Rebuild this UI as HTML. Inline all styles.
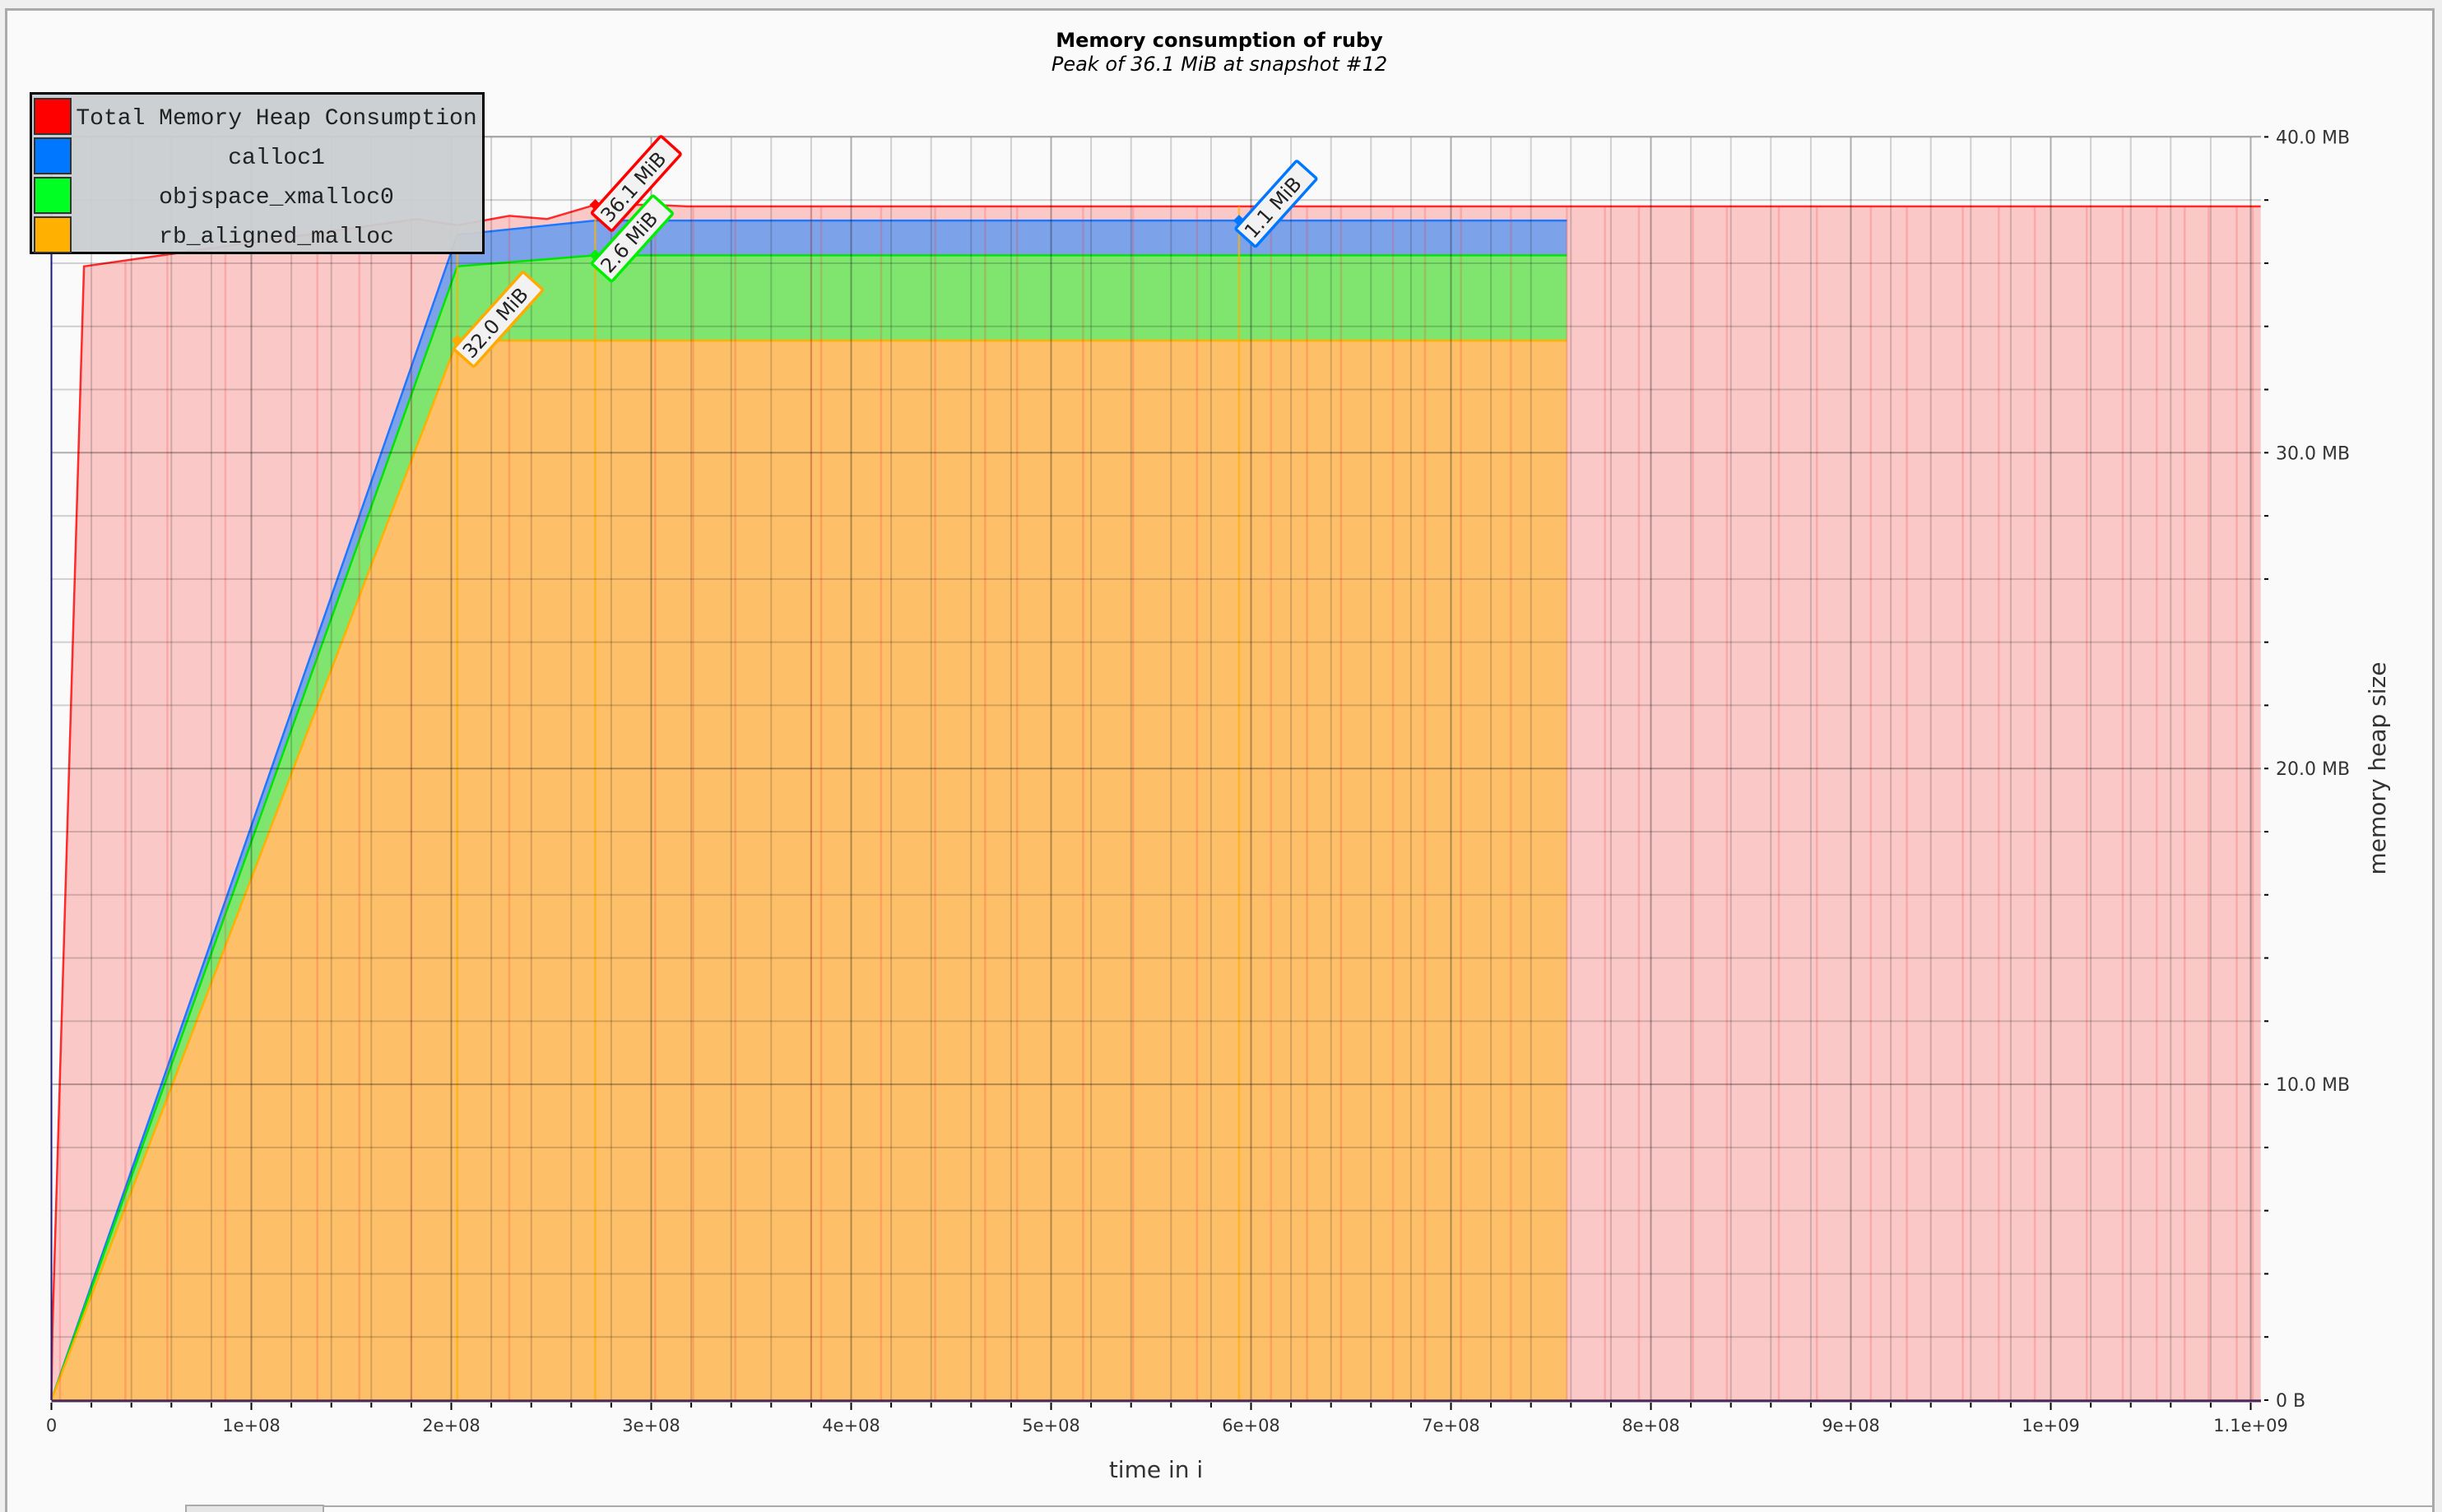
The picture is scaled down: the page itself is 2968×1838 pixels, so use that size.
<!DOCTYPE html>
<html><head><meta charset="utf-8"><style>
html,body{margin:0;padding:0;background:#efefef;}
svg{display:block;}
text{font-family:"DejaVu Sans","Liberation Sans",sans-serif;}
</style></head><body>
<svg id="chart" xmlns="http://www.w3.org/2000/svg" width="2968" height="1838" viewBox="0 0 2968 1838">
  <rect x="7.5" y="11.5" width="2950" height="1830" fill="#fafafa" stroke="#aaaaaa" stroke-width="3"/>
  <rect x="226" y="1830" width="167" height="12" fill="#e6e6e6" stroke="#aaaaaa" stroke-width="2"/>
  <line x1="393" y1="1831" x2="2957" y2="1831" stroke="#aaaaaa" stroke-width="2"/>
  <text x="1482" y="57" text-anchor="middle" font-size="24" font-weight="bold" fill="#000">Memory consumption of ruby</text>
  <text x="1482" y="86" text-anchor="middle" font-size="24" font-style="italic" fill="#000">Peak of 36.1 MiB at snapshot #12</text>
  <rect x="62.5" y="166" width="2685.5" height="1536" fill="#fafafa"/>
  <g id="areas"></g>
  <g id="snaps"></g>
  <g id="grid"></g>
  <g id="axes"></g>
  <g id="annots"></g>
  <text x="1405" y="1796" text-anchor="middle" font-size="28" fill="#333">time in i</text>
  <text transform="translate(2899,934) rotate(-90)" text-anchor="middle" font-size="28" fill="#333">memory heap size</text>
  <g>
    <rect x="37.5" y="113.5" width="550" height="194" fill="#c9cdd0" fill-opacity="0.95" stroke="#000" stroke-width="3"/>
    <rect x="42" y="120" width="44" height="43" fill="#ff0000" stroke="#333" stroke-width="2"/>
    <rect x="42" y="168" width="44" height="43" fill="#0077ff" stroke="#333" stroke-width="2"/>
    <rect x="42" y="216" width="44" height="43" fill="#00ff22" stroke="#333" stroke-width="2"/>
    <rect x="42" y="264" width="44" height="43" fill="#ffb000" stroke="#333" stroke-width="2"/>
    <g font-size="28" fill="#222" text-anchor="middle">
      <text x="336" y="151" style="font-family:'Liberation Mono',monospace">Total Memory Heap Consumption</text>
      <text x="336" y="199" style="font-family:'Liberation Mono',monospace">calloc1</text>
      <text x="336" y="247" style="font-family:'Liberation Mono',monospace">objspace_xmalloc0</text>
      <text x="336" y="295" style="font-family:'Liberation Mono',monospace">rb_aligned_malloc</text>
    </g>
  </g>
</svg>
<script>
// data (time in units of 1e8, memory in MB)
const totalTimes = [0, 0.005, 0.163, 1.83, 2.03, 2.29, 2.48, 2.72, 3.0, 3.18, 11.05];
const totalValues = [0, 2.2, 35.9, 37.4, 37.2, 37.5, 37.4, 37.85, 37.85, 37.8, 37.8];
const stackTimes = [0, 2.03, 2.72, 7.58];
const rbAlignedValues = [0, 33.55, 33.55, 33.55];
const objspaceValues = [0, 2.35, 2.7, 2.7];
const callocValues = [0, 1.0, 1.1, 1.1];
const snapshotTimes = [0.043, 0.37, 0.58, 0.87, 1.33, 1.54, 1.80, 2.03, 2.29, 2.72, 3.02, 3.21, 3.42, 3.80, 3.85, 4.15, 4.42, 4.67, 4.83, 5.16, 5.41, 5.73, 5.94, 6.10, 6.28, 6.45, 6.71, 6.87, 7.05, 7.30, 7.58, 7.77, 7.94, 8.21, 8.38, 8.64, 8.83, 9.10, 9.28, 9.56, 9.74, 9.92, 10.18, 10.36, 10.53, 10.67, 10.79, 10.93, 11.01];
const xTickLabels = ["0","1e+08","2e+08","3e+08","4e+08","5e+08","6e+08","7e+08","8e+08","9e+08","1e+09","1.1e+09"];
const yTickLabels = ["0 B","10.0 MB","20.0 MB","30.0 MB","40.0 MB"];
const annotLabels = ["36.1 MiB","2.6 MiB","32.0 MiB","1.1 MiB"];
const annotTimes = [2.72, 2.72, 2.03, 5.94];

const NS = "http://www.w3.org/2000/svg";
const X0 = 62.5, XPER = 243, Y0 = 1702, YPER = 38.39, XR = 2748, YT = 166;
function xs(t){ return X0 + t*XPER; }
function ys(v){ return Y0 - v*YPER; }
function mk(tag, attrs, parent){
  const e = document.createElementNS(NS, tag);
  for (const k in attrs) e.setAttribute(k, attrs[k]);
  parent.appendChild(e); return e;
}
const grid = document.getElementById('grid');
const snaps = document.getElementById('snaps');
const areas = document.getElementById('areas');
const axes = document.getElementById('axes');
const annots = document.getElementById('annots');

// grid (drawn over fills, translucent)
for (let i = 0; i <= 55; i++) {
  const x = xs(i*0.2);
  if (x > XR) break;
  const l = mk('line', {x1:x, y1:YT, x2:x, y2:Y0, stroke: i%5===0 ? 'rgba(0,0,0,0.3)' : 'rgba(0,0,0,0.17)', 'stroke-width':2}, grid);
  
  
}
for (let i = 0; i <= 20; i++) {
  const y = ys(i*2);
  const l = mk('line', {x1:X0, y1:y, x2:XR, y2:y, stroke: i%5===0 ? 'rgba(0,0,0,0.3)' : 'rgba(0,0,0,0.17)', 'stroke-width':2}, grid);
  
  
}

// areas
const tp = totalTimes.map((t,i)=>xs(t)+','+ys(totalValues[i]));
const redArea = mk('polygon', {points: xs(totalTimes[0])+','+Y0+' '+tp.join(' ')+' '+xs(totalTimes[totalTimes.length-1])+','+Y0, fill:'rgba(255,0,0,0.2)'}, areas);



const s1 = rbAlignedValues.slice();
const s2 = s1.map((v,i)=>v+objspaceValues[i]);
const s3 = s2.map((v,i)=>v+callocValues[i]);
function band(top, bottom, fill, stroke, name){
  let p = stackTimes.map((t,i)=>xs(t)+','+ys(top[i]));
  let b = stackTimes.map((t,i)=>xs(t)+','+ys(bottom[i])).reverse();
  const poly = mk('polygon', {points: p.concat(b).join(' '), fill: fill}, areas);
  
  
  const line = mk('polyline', {points: p.join(' '), fill:'none', stroke: stroke, 'stroke-width':2.5}, areas);
  
  
}
const zeros = stackTimes.map(()=>0);
band(s3, s2, '#7ca3e9', '#1e78ff', 'calloc1');
band(s2, s1, '#7fe56f', '#00e600', 'objspace-xmalloc0');
band(s1, zeros, '#febf69', '#ffb000', 'rb-aligned-malloc');
const redLine = mk('polyline', {points: tp.join(' '), fill:'none', stroke:'#ff2a2a', 'stroke-width':2.5}, areas);



// snapshot lines
snapshotTimes.forEach(t => {
  const x = xs(t);
  let top = ys(37.8);
  for (let i = 0; i < totalTimes.length-1; i++) {
    if (t >= totalTimes[i] && t <= totalTimes[i+1]) {
      const f = (t-totalTimes[i])/(totalTimes[i+1]-totalTimes[i]);
      top = ys(totalValues[i] + f*(totalValues[i+1]-totalValues[i]));
    }
  }
  const hl = annotTimes.indexOf(t) >= 0;
  const l = mk('line', {x1:x, y1:top, x2:x, y2:Y0, stroke: hl ? 'rgba(255,175,0,0.7)' : 'rgba(255,40,40,0.2)', 'stroke-width':2.5}, snaps);
  
  
});

// axes
const lax = mk('line', {x1:X0, y1:YT, x2:X0, y2:Y0, stroke:'#1a1a7a', 'stroke-width':2}, axes);


const bax = mk('line', {x1:X0, y1:Y0+1, x2:XR, y2:Y0+1, stroke:'#4a2a5a', 'stroke-width':3}, axes);


const topl = mk('line', {x1:X0, y1:YT, x2:XR, y2:YT, stroke:'#a8a8a8', 'stroke-width':2}, axes);


for (let i = 0; i <= 55; i++) {
  const x = xs(i*0.2);
  if (x > XR) break;
  const tk = mk('line', {x1:x, y1:Y0+3, x2:x, y2: i%5===0 ? Y0+12 : Y0+9, stroke:'#000', 'stroke-width':2}, axes);
  
  
}
xTickLabels.forEach((s,i) => {
  const t = mk('text', {x: xs(i), y: Y0+38, 'text-anchor':'middle', 'font-size':21, fill:'#333'}, axes);
  t.textContent = s;
  
  
});
for (let i = 0; i <= 20; i++) {
  const y = ys(i*2);
  const tk = mk('line', {x1:2752, y1:y, x2:2757, y2:y, stroke:'#000', 'stroke-width':2}, axes);
  
  
}
yTickLabels.forEach((s,i) => {
  const t = mk('text', {x: 2766, y: ys(i*10)+8, 'font-size':22, fill:'#333'}, axes);
  t.textContent = s;
  
  
});

// annotations
const annotVals = [totalValues[7], s2[2], s1[1], s3[3]];
const annotColors = ['#ff0000', '#00ee00', '#ffaa00', '#0077ff'];
annotLabels.forEach((s,i) => {
  const mx = xs(annotTimes[i]), my = ys(annotVals[i]);
  const d = mk('polygon', {points: [mx+','+(my-7), (mx+7)+','+my, mx+','+(my+7), (mx-7)+','+my].join(' '), fill: annotColors[i]}, annots);
  
  
  const g = mk('g', {transform: 'translate(' + (mx+20) + ',' + (my+32) + ') rotate(-48)'}, annots);
  
  
  const w = s.length*14.5 + 10;
  mk('rect', {x:0, y:-33, width:w, height:33, rx:2, fill:'#f2f2f2', stroke: annotColors[i], 'stroke-width':3.5}, g);
  const t = mk('text', {x:5, y:-8, 'font-size':24, fill:'#222'}, g);
  t.textContent = s;
});
</script>
</body></html>
